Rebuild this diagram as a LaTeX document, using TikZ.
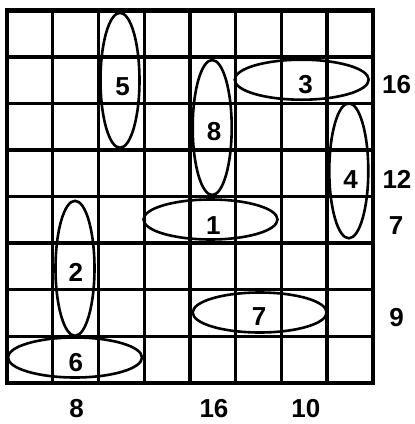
\documentclass[tikz,border=0pt]{standalone}
\usepackage{fontspec}
\setmainfont{Liberation Sans}
\usetikzlibrary{shapes.geometric}
\begin{document}
\begin{tikzpicture}[x=1pt,y=-1pt,
  gridline/.style={line width=3.3pt},
  frame/.style={line width=4.5pt},
  oval/.style={draw, ellipse, line width=2.6pt, inner sep=0pt},
  hov/.style={oval, minimum width=134pt, minimum height=40pt},
  vov/.style={oval, minimum width=39pt, minimum height=135pt},
  num/.style={font=\fontsize{26}{26}\selectfont\bfseries, inner sep=0pt}]
\useasboundingbox (0,0) rectangle (415,424);
\foreach \i in {1,...,7} {
  \draw[gridline] ({7+45.725*\i},10.3) -- ({7+45.725*\i},382.8);
  \draw[gridline] (7,{10.3+46.56*\i}) -- (372.8,{10.3+46.56*\i});
}
\draw[frame] (7,10.3) rectangle (372.8,382.8);
% ellipses
\node[vov] (e5) at (120,80.3) {};
\node[vov] (e8) at (212.2,127.5) {};
\node[hov] (e3) at (301.7,79.7) {};
\node[vov] (e4) at (348.8,170.8) {};
\node[hov] (e1) at (210.5,219.5) {};
\node[vov] (e2) at (75,268.3) {};
\node[hov] (e6) at (75,357.5) {};
\node[hov] (e7) at (259.7,312.5) {};
% labels in ellipses
\node[num] (l5) at (122.5,86.5) {5};
\node[num] (l8) at (214,131.5) {8};
\node[num] (l3) at (305.5,84.5) {3};
\node[num] (l4) at (350.5,179.5) {4};
\node[num] (l1) at (213.3,225.8) {1};
\node[num] (l2) at (75.8,272.5) {2};
\node[num] (l6) at (75.8,362.5) {6};
\node[num] (l7) at (259,317) {7};
% right labels
\node[num] (r16) at (396.7,84.5) {16};
\node[num] (r12) at (397,179) {12};
\node[num] (r7) at (396,225.8) {7};
\node[num] (r9) at (396.7,318) {9};
% bottom labels
\node[num] (b8) at (76.7,409) {8};
\node[num] (b16) at (214,409) {16};
\node[num] (b10) at (305.8,409) {10};
\end{tikzpicture}
\end{document}
